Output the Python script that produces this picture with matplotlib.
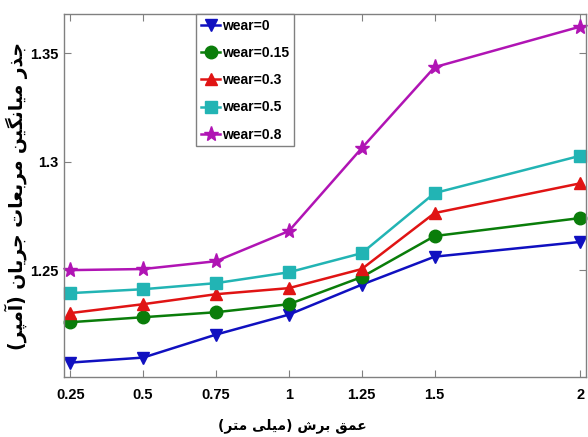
import matplotlib
matplotlib.use("Agg")
import matplotlib.pyplot as plt


depth = [0.25, 0.5, 0.75, 1.0, 1.25, 1.5, 2.0]
wear_labels = ["wear=0", "wear=0.15", "wear=0.3", "wear=0.5", "wear=0.8"]
wear_0 = [1.2074, 1.2097, 1.2203, 1.2295, 1.2433, 1.2562, 1.2630]
wear_015 = [1.2260, 1.2283, 1.2306, 1.2343, 1.2468, 1.2657, 1.2740]
wear_03 = [1.2302, 1.2343, 1.2389, 1.2417, 1.2505, 1.2763, 1.2900]
wear_05 = [1.2394, 1.2412, 1.2440, 1.2490, 1.2578, 1.2855, 1.3027]
wear_08 = [1.2500, 1.2505, 1.2541, 1.2680, 1.3062, 1.3435, 1.3622]
y_ticks = [1.25, 1.3, 1.35]
x_label = "عمق برش (میلی متر)"
y_label = "جذر میانگین مربعات جریان (آمپر)"

# Arabic presentation forms: isolated, final, initial, medial
FORMS = {
    "ا": ("\uFE8D", "\uFE8E", None, None),
    "آ": ("\uFE81", "\uFE82", None, None),
    "ب": ("\uFE8F", "\uFE90", "\uFE91", "\uFE92"),
    "پ": ("\uFB56", "\uFB57", "\uFB58", "\uFB59"),
    "ت": ("\uFE95", "\uFE96", "\uFE97", "\uFE98"),
    "ج": ("\uFE9D", "\uFE9E", "\uFE9F", "\uFEA0"),
    "ذ": ("\uFEAB", "\uFEAC", None, None),
    "ر": ("\uFEAD", "\uFEAE", None, None),
    "ش": ("\uFEB5", "\uFEB6", "\uFEB7", "\uFEB8"),
    "ع": ("\uFEC9", "\uFECA", "\uFECB", "\uFECC"),
    "ق": ("\uFED5", "\uFED6", "\uFED7", "\uFED8"),
    "گ": ("\uFB92", "\uFB93", "\uFB94", "\uFB95"),
    "ل": ("\uFEDD", "\uFEDE", "\uFEDF", "\uFEE0"),
    "م": ("\uFEE1", "\uFEE2", "\uFEE3", "\uFEE4"),
    "ن": ("\uFEE5", "\uFEE6", "\uFEE7", "\uFEE8"),
    "ی": ("\uFBFC", "\uFBFD", "\uFBFE", "\uFBFF"),
}


def rtl(text):
    out = []
    for i, ch in enumerate(text):
        if ch not in FORMS:
            out.append(ch)
            continue
        prev = text[i - 1] if i > 0 else ""
        nxt = text[i + 1] if i + 1 < len(text) else ""
        join_prev = prev in FORMS and FORMS[prev][2] is not None
        join_next = FORMS[ch][2] is not None and nxt in FORMS
        iso, fin, ini, med = FORMS[ch]
        if join_prev and join_next:
            out.append(med)
        elif join_prev:
            out.append(fin)
        elif join_next:
            out.append(ini)
        else:
            out.append(iso)
    s = "".join(reversed(out))
    return s.translate(str.maketrans("()", ")("))


tick_font = ["DejaVu Sans Condensed", "Liberation Sans", "DejaVu Sans"]

fig = plt.figure(figsize=(5.88, 4.37), dpi=100)
ax = fig.add_axes([0.109, 0.137, 0.888, 0.831])

series = [wear_0, wear_015, wear_03, wear_05, wear_08]
colors = ["#1010c0", "#0a7d0a", "#e01414", "#22b4b4", "#b014b4"]
markers = ["v", "o", "^", "s", "*"]
sizes = [8.5, 9, 9, 8, 11]

for vals, lab, c, m, ms in zip(series, wear_labels, colors, markers, sizes):
    ax.plot(depth, vals, color=c, marker=m, markersize=ms, linewidth=1.8,
            label=lab, clip_on=False)

ax.set_xlim(0.229, 2.02)
ax.set_ylim(1.2007, 1.368)
ax.set_xticks(depth)
ax.set_xticklabels(["0.25", "0.5", "0.75", "1", "1.25", "1.5", "2"])
ax.set_yticks(y_ticks)
ax.set_yticklabels(["1.25", "1.3", "1.35"])

for s in ax.spines.values():
    s.set_color("#808080")
    s.set_linewidth(1.0)
ax.tick_params(direction="in", length=5, color="#808080", top=True, right=True)
ax.tick_params(axis="x", pad=8)
ax.tick_params(axis="y", pad=4)
for t in ax.get_xticklabels() + ax.get_yticklabels():
    t.set_family(tick_font)
    t.set_fontweight("bold")
    t.set_fontsize(10.5)

ax.set_xlabel(rtl(x_label), family=["DejaVu Sans"], fontweight="bold",
              fontsize=10)
ax.xaxis.set_label_coords(0.437, -0.112)
ax.set_ylabel(rtl(y_label), family=["DejaVu Sans"], fontweight="bold",
              fontsize=13.5)
ax.yaxis.set_label_coords(-0.07, 0.5)

leg = ax.legend(loc="upper left", bbox_to_anchor=(0.253, 1.0), borderaxespad=0,
                handlelength=1.4, handletextpad=0.1, labelspacing=0.95,
                fancybox=False, framealpha=1, borderpad=0.35,
                prop={"family": tick_font, "weight": "bold", "size": 10})
leg.get_frame().set_edgecolor("#808080")

fig.savefig("out.png", dpi=100)
